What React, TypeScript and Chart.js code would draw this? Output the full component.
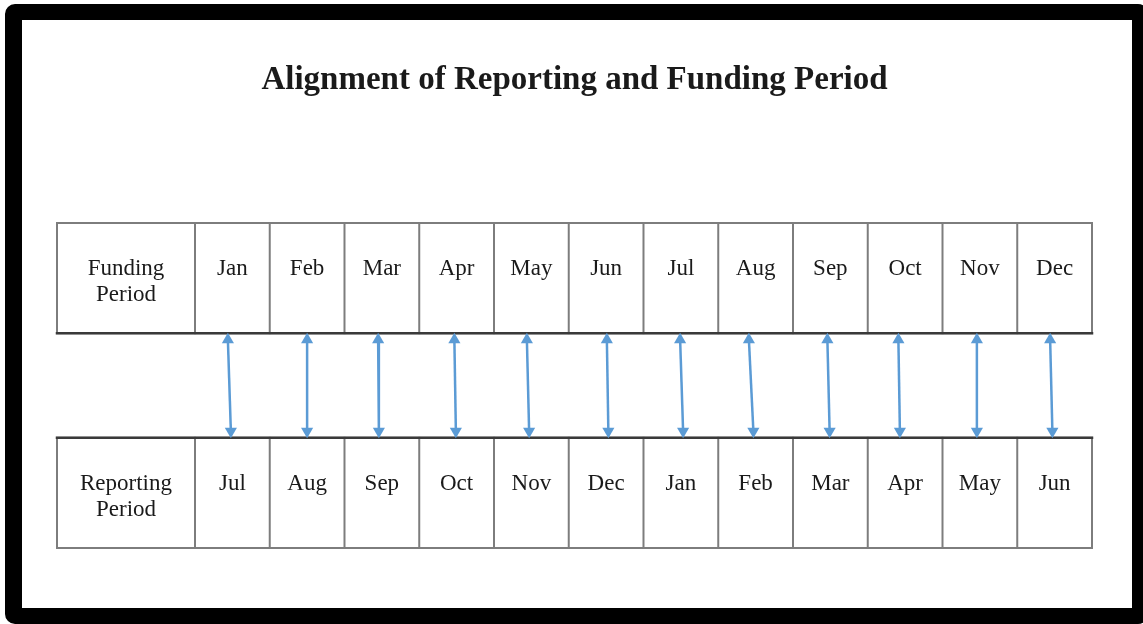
import React, { useEffect, useRef } from "react";
import { Chart, registerables } from "chart.js";

Chart.register(...registerables);

// ---- content ----
const TITLE = "Alignment of Reporting and Funding Period";
const FUNDING_HEADER = ["Funding", "Period"];
const REPORTING_HEADER = ["Reporting", "Period"];
const FUNDING_MONTHS = ["Jan", "Feb", "Mar", "Apr", "May", "Jun", "Jul", "Aug", "Sep", "Oct", "Nov", "Dec"];
const REPORTING_MONTHS = ["Jul", "Aug", "Sep", "Oct", "Nov", "Dec", "Jan", "Feb", "Mar", "Apr", "May", "Jun"];

// arrow end positions, in month-column units (column i spans [i, i+1])
const ARROW_TOP_X = [0.44, 1.5, 2.45, 3.47, 4.44, 5.51, 6.49, 7.41, 8.46, 9.41, 10.46, 11.44];
const ARROW_BOTTOM_X = [0.48, 1.5, 2.46, 3.49, 4.47, 5.53, 6.53, 7.47, 8.49, 9.43, 10.46, 11.47];

// table geometry in scale units
const HEADER_SPAN = 1.846;
const REPORTING_ROW = [0, 1];
const FUNDING_ROW = [1.95, 2.95];
const ARROW_INSET = 0.06;

// styles
const SERIF = "'Liberation Serif', 'Times New Roman', Times, serif";
const TEXT_COLOR = "#1a1a1a";
const GRID_COLOR = "#7d7d7d";
const EDGE_COLOR = "#3a3a3a";
const ARROW_COLOR = "#5B9BD5";
const LABEL_SIZE = 23;
const LINE1_OFFSET = 52;
const LINE2_OFFSET = 78;

const tablePlugin = {
  id: "periodTable",
  beforeDatasetsDraw(chart: any) {
    const { ctx } = chart;
    const x = chart.scales.x;
    const y = chart.scales.y;

    const drawRow = (row: number[], header: string[], months: string[], innerEdge: "top" | "bottom") => {
      const top = y.getPixelForValue(row[1]);
      const bottom = y.getPixelForValue(row[0]);
      const edgeVals = [-HEADER_SPAN, ...months.map((_, i) => i), months.length];
      const edges = edgeVals.map((v) => x.getPixelForValue(v));
      const left = edges[0];
      const right = edges[edges.length - 1];

      ctx.save();
      ctx.lineCap = "square";
      ctx.strokeStyle = GRID_COLOR;
      ctx.lineWidth = 2;
      ctx.strokeRect(left, top, right - left, bottom - top);
      for (let i = 1; i < edges.length - 1; i++) {
        ctx.beginPath();
        ctx.moveTo(edges[i], top);
        ctx.lineTo(edges[i], bottom);
        ctx.stroke();
      }
      // darker inner edge (facing the arrows)
      ctx.strokeStyle = EDGE_COLOR;
      ctx.lineWidth = 2.5;
      const ey = innerEdge === "top" ? top : bottom;
      ctx.beginPath();
      ctx.moveTo(left, ey);
      ctx.lineTo(right, ey);
      ctx.stroke();

      // text
      ctx.fillStyle = TEXT_COLOR;
      ctx.font = `${LABEL_SIZE}px ${SERIF}`;
      ctx.textAlign = "center";
      ctx.textBaseline = "alphabetic";
      const hx = (edges[0] + edges[1]) / 2;
      ctx.fillText(header[0], hx, top + LINE1_OFFSET);
      ctx.fillText(header[1], hx, top + LINE2_OFFSET);
      months.forEach((m, i) => {
        const cx = (edges[i + 1] + edges[i + 2]) / 2;
        ctx.fillText(m, cx, top + LINE1_OFFSET);
      });
      ctx.restore();
    };

    drawRow(FUNDING_ROW, FUNDING_HEADER, FUNDING_MONTHS, "bottom");
    drawRow(REPORTING_ROW, REPORTING_HEADER, REPORTING_MONTHS, "top");
  },
};

export default function App() {
  const canvasRef = useRef<HTMLCanvasElement | null>(null);

  useEffect(() => {
    document.body.style.margin = "0";
    const canvas = canvasRef.current;
    if (!canvas) return;

    const datasets = FUNDING_MONTHS.map((m, i) => ({
      label: `${m} - ${REPORTING_MONTHS[i]}`,
      data: [
        { x: ARROW_TOP_X[i], y: FUNDING_ROW[0] - ARROW_INSET },
        { x: ARROW_BOTTOM_X[i], y: REPORTING_ROW[1] + ARROW_INSET },
      ],
      showLine: true,
      borderColor: ARROW_COLOR,
      backgroundColor: ARROW_COLOR,
      borderWidth: 2.5,
      pointStyle: "triangle",
      pointRadius: 7,
      pointHoverRadius: 7,
      pointBorderWidth: 0,
      pointBackgroundColor: ARROW_COLOR,
      pointRotation: (c: any) => (c.dataIndex === 0 ? 0 : 180),
      clip: false,
    }));

    const chart = new Chart(canvas, {
      type: "scatter",
      data: { datasets: datasets as any },
      options: {
        animation: false,
        responsive: false,
        maintainAspectRatio: false,
        events: [],
        layout: { padding: { left: 35, right: 40, top: 0, bottom: 60 } },
        plugins: {
          legend: { display: false },
          tooltip: { enabled: false },
          title: {
            display: true,
            text: TITLE,
            color: TEXT_COLOR,
            font: { family: SERIF, size: 33, weight: "bold" },
            padding: { top: 40.2, bottom: 123.2 },
          },
        },
        scales: {
          x: { type: "linear", min: -HEADER_SPAN, max: FUNDING_MONTHS.length, display: false },
          y: { type: "linear", min: REPORTING_ROW[0], max: FUNDING_ROW[1], display: false },
        },
      },
      plugins: [tablePlugin],
    });

    return () => chart.destroy();
  }, []);

  return (
    <div style={{ position: "absolute", left: 0, top: 0, width: 1143, height: 624, background: "#fff", overflow: "hidden" }}>
      <div
        style={{
          position: "absolute",
          left: 5,
          top: 4,
          width: 1143,
          height: 620,
          boxSizing: "border-box",
          borderStyle: "solid",
          borderColor: "#000",
          borderTopWidth: 16,
          borderLeftWidth: 17,
          borderRightWidth: 16,
          borderBottomWidth: 16,
          borderRadius: 10,
        }}
      />
      <canvas
        ref={canvasRef}
        width={1110}
        height={588}
        style={{ position: "absolute", left: 22, top: 20, width: 1110, height: 588 }}
      />
    </div>
  );
}
